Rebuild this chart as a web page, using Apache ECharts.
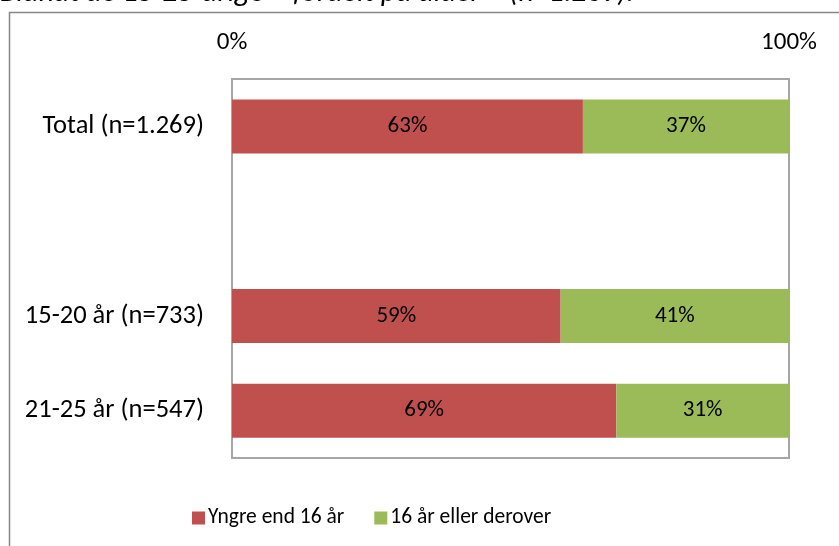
<!DOCTYPE html>
<html>
<head>
<meta charset="utf-8">
<script src="https://cdn.jsdelivr.net/npm/echarts@6/dist/echarts.min.js"></script>
<style>
  html, body { margin: 0; padding: 0; background: #fff; }
  #chart { width: 839px; height: 546px; }
</style>
</head>
<body>
<div id="chart"></div>
<script>
var categories = ['Total (n=1.269)', '', '15-20 år (n=733)', '21-25 år (n=547)'];
var younger = [63, '-', 59, 69];
var older = [37, '-', 41, 31];
var seriesNames = ['Yngre end 16 år', '16 år eller derover'];
var titleText = 'Blandt de 15-25-årige – fordelt på alder*  (n=1.269).';

var font = 'Carlito, Calibri, Lato, sans-serif';

var chart = echarts.init(document.getElementById('chart'), null, { renderer: 'canvas' });

var option = {
  animation: false,
  backgroundColor: '#fff',
  textStyle: { fontFamily: font, color: '#000' },
  graphic: [
    {
      type: 'rect',
      shape: { x: 9.5, y: 12.5, width: 900, height: 600 },
      style: { fill: 'none', stroke: '#868686', lineWidth: 1.5 },
      silent: true
    },
    {
      type: 'text',
      x: 0,
      y: 8,
      style: {
        text: titleText,
        font: 'italic 30px ' + font,
        fill: '#000',
        textVerticalAlign: 'bottom'
      }
    }
  ],
  grid: {
    left: 232, top: 79, width: 557, height: 379,
    show: true, borderColor: '#a6a6a6', borderWidth: 2,
    containLabel: false
  },
  legend: {
    left: 187, top: 502,
    icon: 'rect', itemWidth: 13, itemHeight: 13, itemGap: 30,
    textStyle: { fontFamily: font, fontSize: 21.5, color: '#000', padding: [0, 0, 0, -2] },
    data: seriesNames
  },
  xAxis: {
    type: 'value', position: 'top',
    min: 0, max: 100, interval: 100,
    axisLine: { show: false }, axisTick: { show: false },
    splitLine: { show: false },
    axisLabel: { formatter: '{value}%', fontSize: 25, color: '#000', margin: 24, fontFamily: font }
  },
  yAxis: {
    type: 'category', inverse: true, data: categories,
    axisLine: { show: false }, axisTick: { show: false },
    axisLabel: { fontSize: 26.5, color: '#000', margin: 28, fontFamily: font }
  },
  series: [
    {
      name: seriesNames[0], type: 'bar', stack: 'a', data: younger,
      barWidth: 54,
      itemStyle: { color: '#C0504D' },
      label: { show: true, position: 'inside', formatter: '{c}%', fontSize: 23, color: '#000', fontFamily: font }
    },
    {
      name: seriesNames[1], type: 'bar', stack: 'a', data: older,
      barWidth: 54,
      itemStyle: { color: '#9BBB59' },
      label: { show: true, position: 'inside', formatter: '{c}%', fontSize: 23, color: '#000', fontFamily: font }
    }
  ]
};

chart.setOption(option);
</script>
</body>
</html>
